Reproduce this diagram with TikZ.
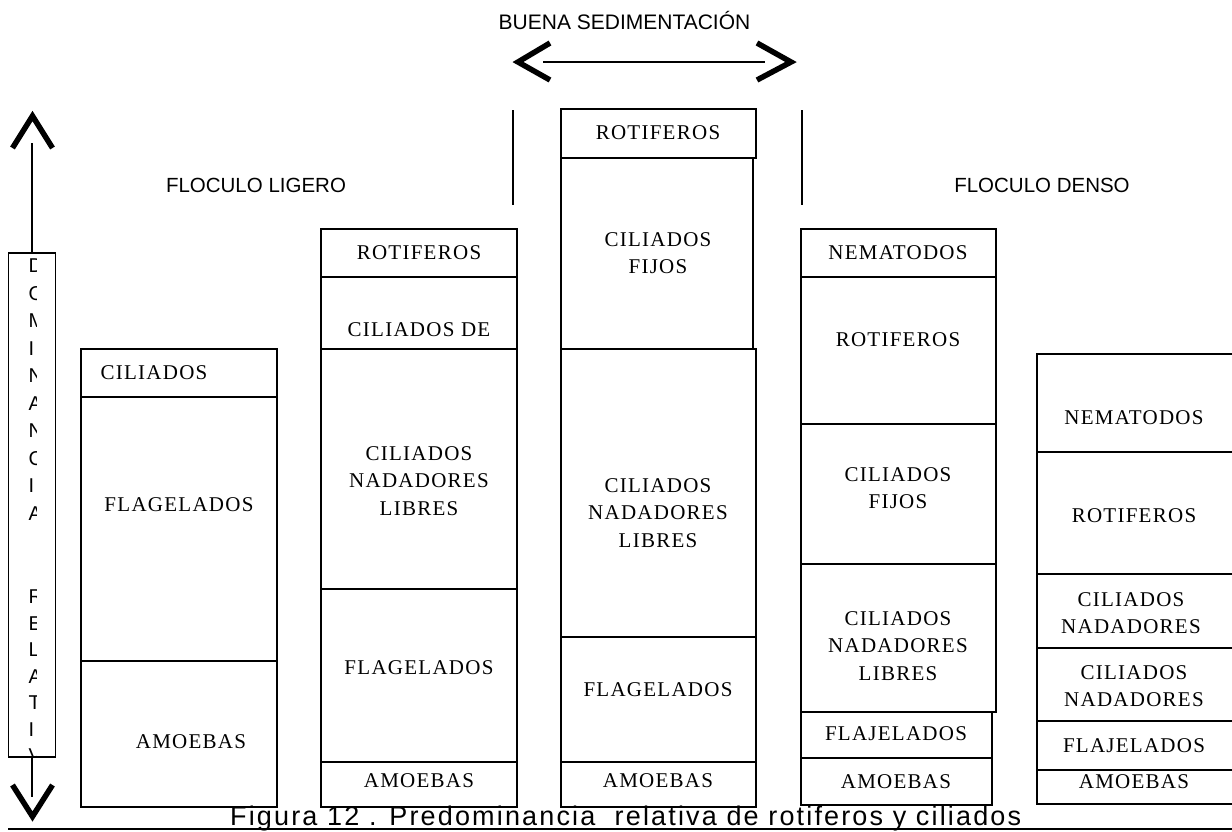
\documentclass[tikz,border=0pt]{standalone}
\usepackage{fontspec}
\setmainfont[LetterSpace=6]{Liberation Serif}
\newfontfamily\arialfont{Liberation Sans}
\newfontfamily\capfont[LetterSpace=8]{Liberation Sans}
\tikzset{
  lbl/.style={font=\fontsize{21}{27.5}\selectfont, align=center, inner sep=0pt},
  hdr/.style={font=\arialfont\fontsize{20.5}{24}\selectfont, inner sep=0pt},
  axl/.style={font=\arialfont\fontsize{20}{24}\selectfont, inner sep=0pt, anchor=west},
  chev/.style={line width=5.5pt, miter limit=10},
  box/.style={line width=1.3pt},
}

\begin{document}
\begin{tikzpicture}[x=1pt,y=-1pt]
			%%%%% START %%%%%
			\useasboundingbox (0,0) rectangle (1232,831);
			
			\node[hdr, font=\arialfont\fontsize{21}{24}\selectfont] (buena) at (624.5,20) {BUENA SEDIMENTACIÓN};
			\node[hdr] (ligero) at (256,185) {FLOCULO LIGERO};
			\node[hdr] (denso) at (1042,185) {FLOCULO DENSO};
			
			\coordinate (left) at (518,62);
			\coordinate (right) at (791,62);
			\draw[box] (543,62) -- (765,62);
			\draw[chev] (550,43) -- (left) -- (550,80);
			\draw[chev] (757,43) -- (right) -- (757,80);
			
			\draw[box] (513,110) -- (513,205);
			\draw[box] (802,110) -- (802,205);
			
			\node[draw, box, minimum width=47pt, minimum height=504pt, inner sep=0pt] (axis) at (32,505) {};
			\begin{scope}
				\clip (8,253) rectangle (36,757);
				\foreach \l [count=\i from 0] in {D,O,M,I,N,A,N,C,I,A}
					\node[axl] (axa\i) at (28.5,266+27.5*\i) {\l};
				\foreach \l [count=\i from 0] in {R,E,L,A,T,I,V}
					\node[axl] (axb\i) at (28.5,597+26.5*\i) {\l};
			\end{scope}
			\coordinate (uptip) at (32,143);
			\coordinate (dntip) at (32,797);
			\draw[box] (axis.north) -- (uptip);
			\draw[box] (axis.south) -- (dntip);
			\draw[chev] (12.5,148) -- (32.5,116) -- (52.5,148);
			\draw[chev] (12.5,785) -- (32.5,816.5) -- (52.5,785);
			
			\draw[box] (81,349) rectangle (277,397);
			\draw[box] (81,397) rectangle (277,661);
			\draw[box] (81,661) rectangle (277,807);
			\node[lbl] (c1cil) at (154,373) {CILIADOS};
			\node[lbl] (c1fla) at (179,505) {FLAGELADOS};
			\node[lbl] (c1amo) at (191,742) {AMOEBAS};
			
			\draw[box] (321,229) rectangle (517,277);
			\draw[box] (321,277) rectangle (517,349);
			\draw[box] (321,349) rectangle (517,589);
			\draw[box] (321,589) rectangle (517,762);
			\draw[box] (321,762) rectangle (517,807);
			\node[lbl] (c2rot) at (419,253) {ROTIFEROS};
			\node[lbl] (c2cde) at (419,330) {CILIADOS DE};
			\node[lbl] (c2nad) at (419,481) {CILIADOS\\NADADORES\\LIBRES};
			\node[lbl] (c2fla) at (419,668) {FLAGELADOS};
			\node[lbl] (c2amo) at (419,781) {AMOEBAS};
			
			\draw[box] (561,109) rectangle (756,158);
			\draw[box] (561,158) rectangle (753,349);
			\draw[box] (561,349) rectangle (756,637);
			\draw[box] (561,637) rectangle (756,762);
			\draw[box] (561,762) rectangle (756,807);
			\node[lbl] (c3rot) at (658,133) {ROTIFEROS};
			\node[lbl] (c3fij) at (658,253) {CILIADOS\\FIJOS};
			\node[lbl] (c3nad) at (658,513) {CILIADOS\\NADADORES\\LIBRES};
			\node[lbl] (c3fla) at (658,690) {FLAGELADOS};
			\node[lbl] (c3amo) at (658,781) {AMOEBAS};
			
			\draw[box] (801,229) rectangle (996,277);
			\draw[box] (801,277) rectangle (996,424);
			\draw[box] (801,424) rectangle (996,564);
			\draw[box] (801,564) rectangle (996,712);
			\draw[box] (801,712) rectangle (992,758);
			\draw[box] (801,758) rectangle (992,805);
			\node[lbl] (c4nem) at (898,253) {NEMATODOS};
			\node[lbl] (c4rot) at (898,340) {ROTIFEROS};
			\node[lbl] (c4fij) at (898,488) {CILIADOS\\FIJOS};
			\node[lbl] (c4nad) at (898,646) {CILIADOS\\NADADORES\\LIBRES};
			\node[lbl] (c4fla) at (896,734) {FLAJELADOS};
			\node[lbl] (c4amo) at (896,782) {AMOEBAS};
			
			\draw[box] (1037,354) rectangle (1240,452);
			\draw[box] (1037,452) rectangle (1240,574);
			\draw[box] (1037,574) rectangle (1240,648);
			\draw[box] (1037,648) rectangle (1240,721);
			\draw[box] (1037,721) rectangle (1240,770);
			\draw[box] (1037,770) rectangle (1240,804);
			\node[lbl] (c5nem) at (1134,418) {NEMATODOS};
			\node[lbl] (c5rot) at (1134,516) {ROTIFEROS};
			\node[lbl] (c5na1) at (1131,613) {CILIADOS\\NADADORES};
			\node[lbl] (c5na2) at (1134,686) {CILIADOS\\NADADORES};
			\node[lbl] (c5fla) at (1134,746) {FLAJELADOS};
			\node[lbl] (c5amo) at (1134,782) {AMOEBAS};
			
			\node[font=\capfont\fontsize{27}{30}\selectfont, inner sep=0pt, anchor=base west] (caption) at (230,825) {Figura 12 . Predominancia\ \ relativa de rotiferos y ciliados};
			\draw[box] (8,829) -- (1232,829);
			%%%%% END %%%%%
\end{tikzpicture}
\end{document}
